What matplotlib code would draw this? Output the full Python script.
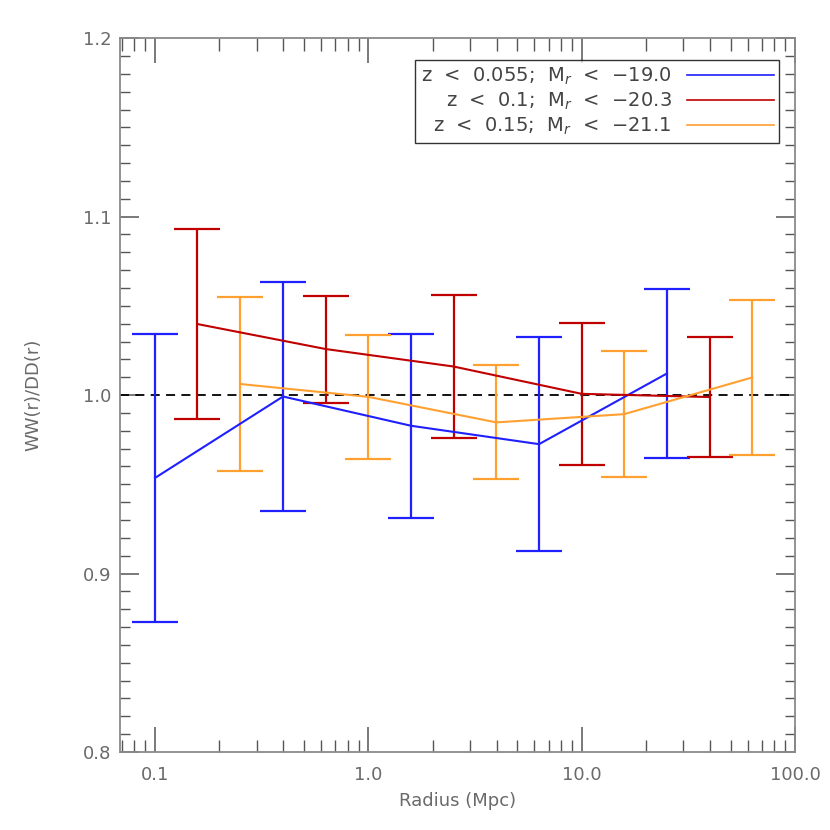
import numpy as np
import matplotlib
matplotlib.use("Agg")
import matplotlib.pyplot as plt
from matplotlib.ticker import FixedLocator, NullFormatter, MultipleLocator

# values
r_blue = [0.1, 0.398, 1.585, 6.31, 25.1]
ww_blue = [0.9536, 0.9992, 0.9828, 0.9725, 1.0121]
err_blue = [0.0806, 0.0639, 0.0517, 0.0600, 0.0475]

r_red = [0.158, 0.631, 2.51, 10.0, 39.8]
ww_red = [1.0398, 1.0258, 1.0160, 1.0007, 0.9989]
err_red = [0.0530, 0.0300, 0.0400, 0.0398, 0.0335]

r_orange = [0.251, 1.0, 3.98, 15.8, 63.1]
ww_orange = [1.0062, 0.9990, 0.9847, 0.9893, 1.0099]
err_orange = [0.0486, 0.0348, 0.0320, 0.0353, 0.0435]

labels = ['z  <  0.055;  M$_r$  <  \u221219.0',
          'z  <  0.1;  M$_r$  <  \u221220.3',
          'z  <  0.15;  M$_r$  <  \u221221.1']
xticks = [0.1, 1.0, 10.0, 100.0]
xtick_labels = ['0.1', '1.0', '10.0', '100.0']
yticks = [0.8, 0.9, 1.0, 1.1, 1.2]

c_blue = '#1f1fff'
c_red = '#c00000'
c_orange = '#ffa030'
grey = '#6a6a6a'

plt.rcParams['font.family'] = ['DejaVu Sans']
plt.rcParams['mathtext.fontset'] = 'dejavusans'

fig = plt.figure(figsize=(8.3, 8.3), dpi=100)
ax = fig.add_axes([0.1446, 0.094, 0.8132, 0.86])

series = [(r_blue, ww_blue, err_blue, c_blue),
          (r_red, ww_red, err_red, c_red),
          (r_orange, ww_orange, err_orange, c_orange)]

handles = []
for (r, ww, err, col), lab in zip(series, labels):
    ax.errorbar(r, ww, yerr=err, color=col, lw=1.5, elinewidth=1.6,
                capsize=16.5, capthick=1.6, zorder=3)
    h, = ax.plot([], [], color=col, lw=1.2, label=lab)
    handles.append(h)

ax.axhline(1.0, color='black', lw=1.3, ls=(0, (5, 3.5)), zorder=2)

ax.set_xscale('log')
ax.set_xlim(0.0685, 100)
ax.set_ylim(0.8, 1.2)

ax.xaxis.set_major_locator(FixedLocator(xticks))
ax.set_xticklabels(xtick_labels)
ax.xaxis.set_minor_locator(FixedLocator(
    [m * 10.0 ** e for e in range(-2, 2) for m in range(2, 10)]))
ax.xaxis.set_minor_formatter(NullFormatter())
ax.yaxis.set_major_locator(FixedLocator(yticks))
ax.set_yticklabels(['0.8', '0.9', '1.0', '1.1', '1.2'])
ax.yaxis.set_minor_locator(MultipleLocator(0.01))

ax.tick_params(which='both', direction='in', top=True, right=True,
               color='#555555', labelcolor=grey, labelsize=13)
ax.tick_params(axis='y', which='major', length=14, width=1.1, pad=6)
ax.tick_params(axis='y', which='minor', length=7, width=1.0)
ax.tick_params(axis='x', which='major', length=18, width=1.1, pad=10)
ax.tick_params(axis='x', which='minor', length=9, width=1.0)
for sp in ax.spines.values():
    sp.set_color('#8a8a8a')
    sp.set_linewidth(1.3)

ax.set_xlabel('Radius (Mpc)', color=grey, fontsize=13, labelpad=6)
ax.set_ylabel('WW(r)/DD(r)', color=grey, fontsize=13, labelpad=29)

leg = ax.legend(handles=handles, loc='upper right', markerfirst=False,
                bbox_to_anchor=(0.977, 0.97), fontsize=14, frameon=True,
                fancybox=False, handlelength=4.45, handletextpad=0.8,
                labelspacing=0.2, borderpad=0.3, borderaxespad=0)
leg.get_frame().set_edgecolor('black')
leg.get_frame().set_linewidth(1.0)
for t in leg.get_texts():
    t.set_color('#444444')

fig.savefig('out.png', dpi=100)
